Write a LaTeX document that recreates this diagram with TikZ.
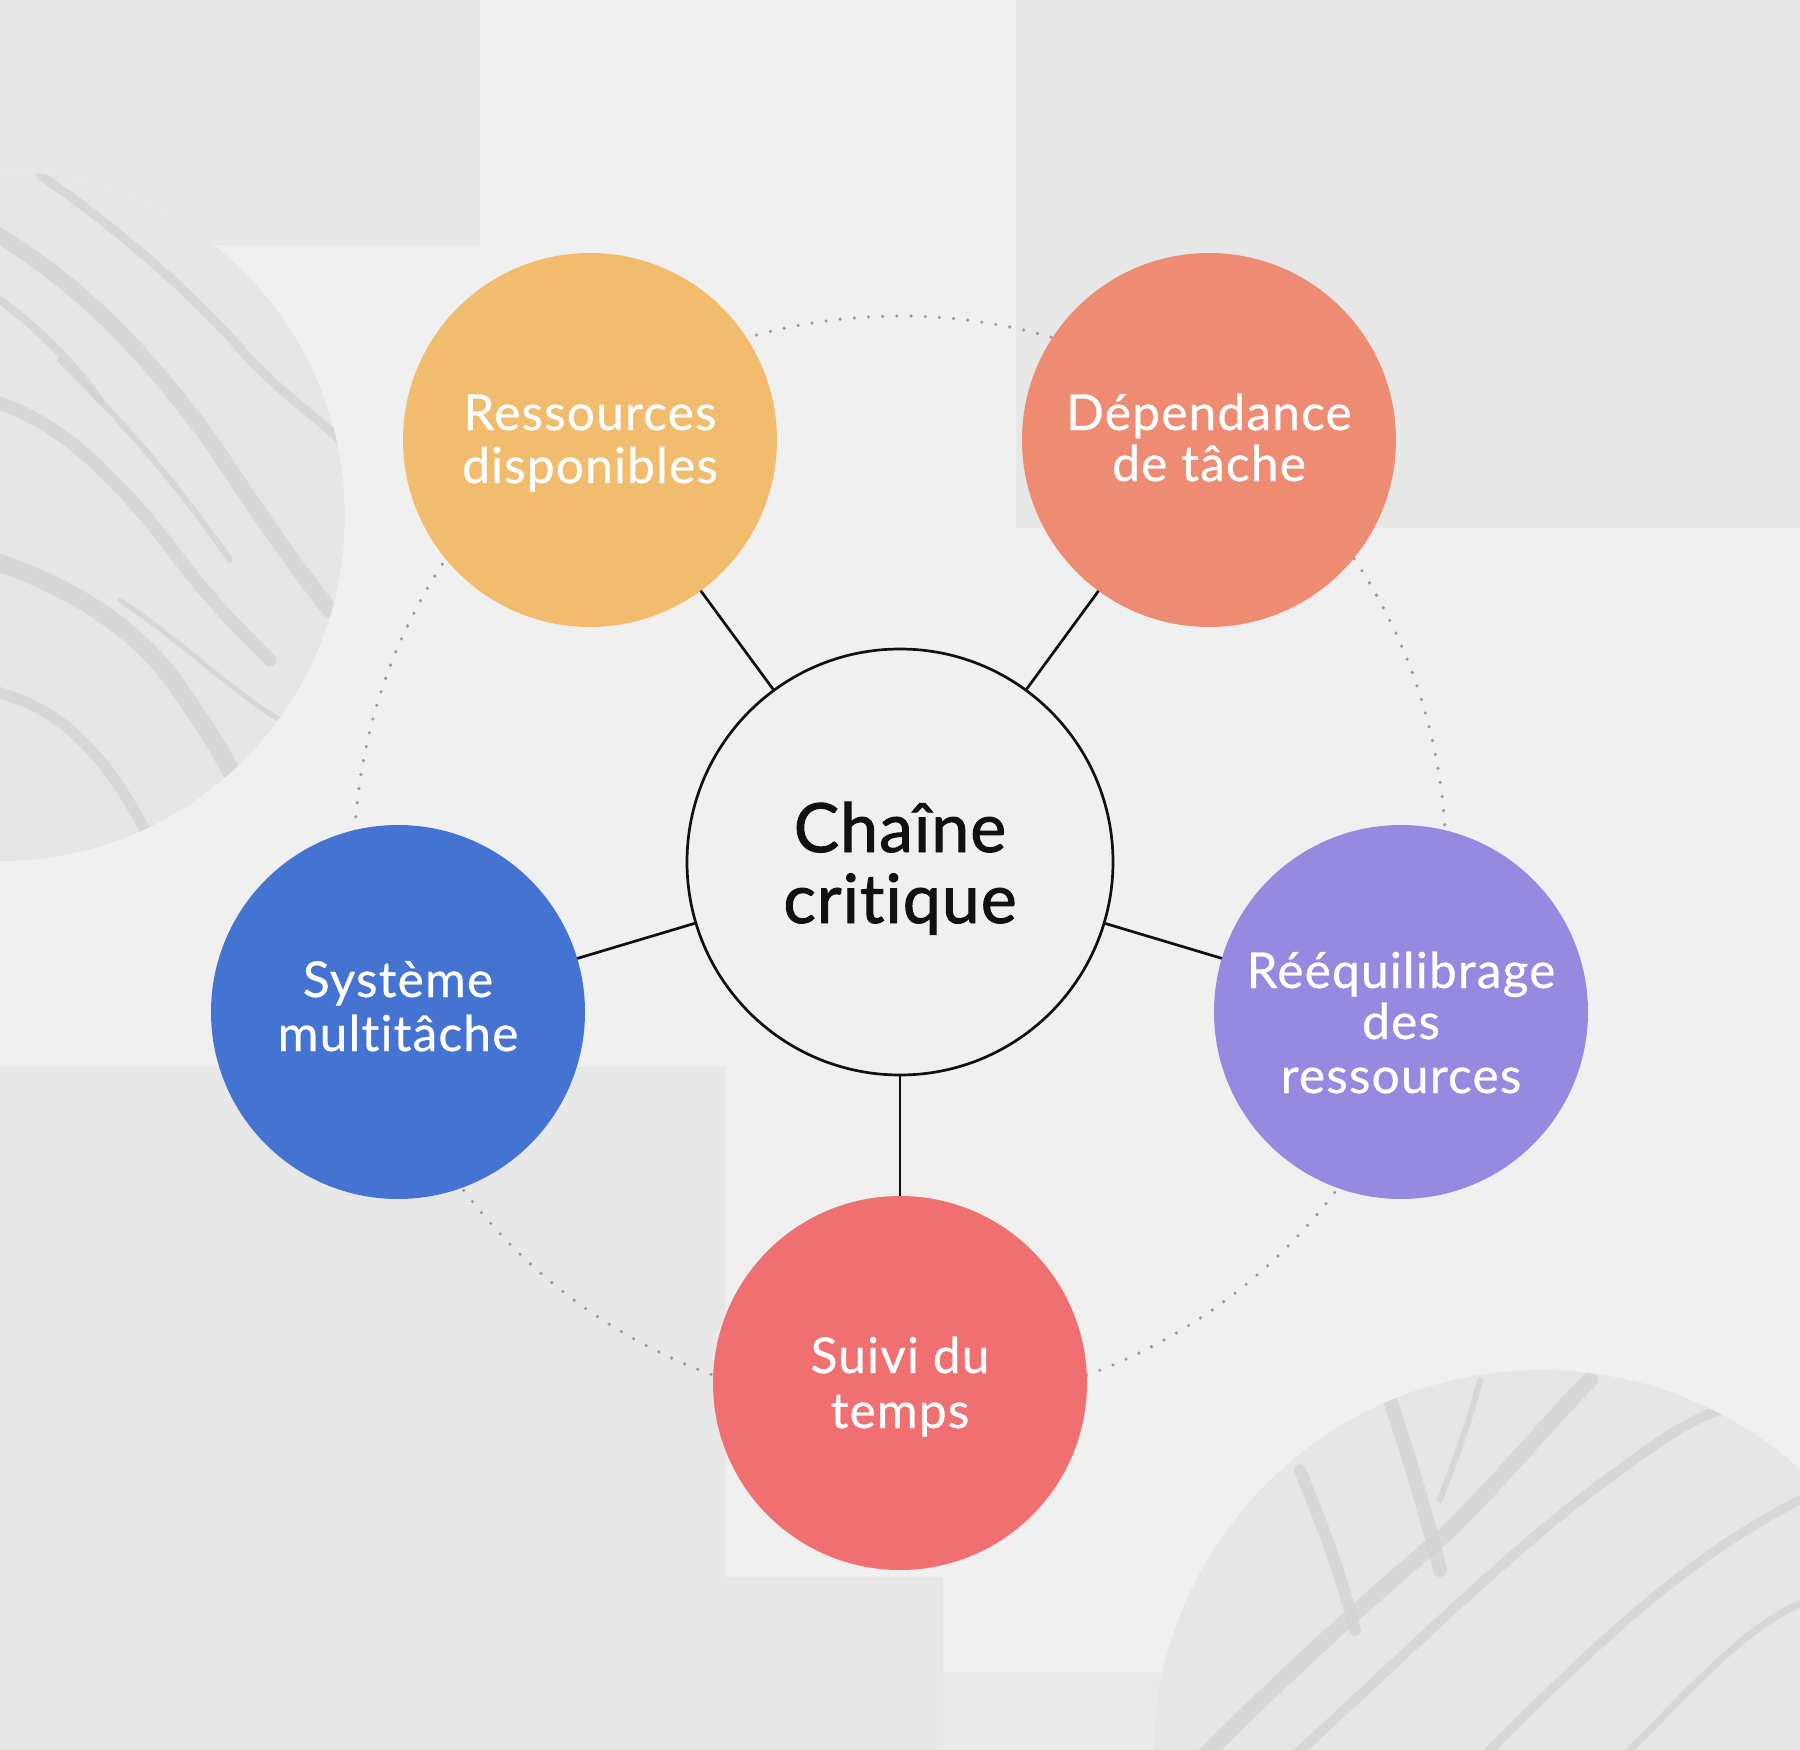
\documentclass[tikz,border=0pt]{standalone}
\usepackage{fontspec}
\setmainfont[Ligatures={NoCommon}, FakeBold=0.6, LetterSpace=2.5]{Lato}
\newfontfamily\ctrfont[Ligatures={NoCommon}, FakeBold=1.4, LetterSpace=1.5]{Lato}
\definecolor{bg}{HTML}{F1F0F0}
\definecolor{patchA}{HTML}{E9E8E8}
\definecolor{patchB}{HTML}{E8E7E7}
\definecolor{marble}{HTML}{E7E6E6}
\definecolor{vein}{HTML}{D3D2D2}
\definecolor{dotgray}{HTML}{9C9B9B}
\definecolor{cyellow}{HTML}{F1BC6D}
\definecolor{corange}{HTML}{EE8C73}
\definecolor{cblue}{HTML}{4573D2}
\definecolor{cpurple}{HTML}{958AE0}
\definecolor{cred}{HTML}{F06F71}
\definecolor{ink}{HTML}{111111}
\begin{document}
\begin{tikzpicture}[x=1pt,y=-1pt,
  sat/.style={circle, minimum size=374pt, inner sep=0pt, outer sep=0pt},
  hub/.style={circle, minimum size=426pt, inner sep=0pt, draw=ink, line width=2.7pt, fill=bg},
  conn/.style={draw=ink, line width=2.7pt},
  lab/.style={font=\fontsize{49.5}{53}\selectfont, text=white, anchor=base, inner sep=0pt},
  hublab/.style={font=\fontsize{68}{71}\ctrfont, text=ink, anchor=base, inner sep=0pt},
  dotring/.style={draw=dotgray, line width=3.6pt, line cap=round, dash pattern=on 0pt off 14.2pt},
  veinline/.style={draw=vein, line cap=round, line join=round, draw opacity=0.75}
]
\useasboundingbox (0,0) rectangle (1800,1750);
% background
\fill[bg] (0,0) rectangle (1800,1750);
\fill[patchA] (0,0) rectangle (480,245);
\fill[patchB] (1016,0) rectangle (1800,528);
\fill[patchA] (0,1067) rectangle (726,1750);
\fill[patchA] (726,1577) rectangle (943,1750);
\fill[patchA!70!bg] (943,1672) rectangle (1800,1750);
% left marble
\begin{scope}
  \clip (0,516) circle[radius=345];
  \fill[marble] (0,516) circle[radius=345];
  \draw[veinline, line width=16pt] (-10,230) .. controls (90,290) and (150,360) .. (210,440) .. controls (250,500) and (290,560) .. (330,610);
  \draw[veinline, line width=9pt] (40,175) .. controls (120,230) and (200,300) .. (250,360) .. controls (290,400) and (320,420) .. (340,440);
  \draw[veinline, line width=13pt] (-10,400) .. controls (60,420) and (120,480) .. (180,560) .. controls (210,600) and (240,630) .. (270,660);
  \draw[veinline, line width=6pt] (60,360) .. controls (110,410) and (160,460) .. (230,560);
  \draw[veinline, line width=18pt] (-10,560) .. controls (70,585) and (140,630) .. (180,690) .. controls (200,720) and (215,740) .. (230,770);
  \draw[veinline, line width=11pt] (-10,690) .. controls (50,705) and (100,740) .. (150,840);
  \draw[veinline, line width=5pt] (120,600) .. controls (180,640) and (230,690) .. (280,720);
  \draw[veinline, line width=8pt] (0,300) .. controls (40,330) and (70,360) .. (100,400);
\end{scope}
% bottom-right marble
\begin{scope}
  \clip (1541,1758) circle[radius=388];
  \fill[marble] (1541,1758) circle[radius=388];
  \draw[veinline, line width=16pt] (1200,1760) .. controls (1300,1660) and (1380,1590) .. (1450,1530) .. controls (1510,1470) and (1550,1420) .. (1590,1380);
  \draw[veinline, line width=10pt] (1290,1760) .. controls (1400,1660) and (1520,1540) .. (1620,1470) .. controls (1660,1440) and (1690,1420) .. (1720,1410);
  \draw[veinline, line width=14pt] (1390,1400) .. controls (1410,1460) and (1425,1510) .. (1440,1570);
  \draw[veinline, line width=9pt] (1480,1760) .. controls (1580,1660) and (1680,1560) .. (1800,1500);
  \draw[veinline, line width=12pt] (1300,1470) .. controls (1320,1520) and (1340,1570) .. (1355,1630);
  \draw[veinline, line width=7pt] (1620,1760) .. controls (1690,1690) and (1750,1620) .. (1810,1600);
  \draw[veinline, line width=6pt] (1480,1380) .. controls (1470,1420) and (1455,1460) .. (1440,1500);
\end{scope}
% hub and dotted ring
\coordinate (c0) at (900,862);
\draw[dotring] (c0) circle[radius=546];
\node[hub] (ctr) at (c0) {};
% satellites
\node[sat, fill=cyellow] (res) at (590,440) {};
\node[sat, fill=corange] (dep) at (1209,440) {};
\node[sat, fill=cblue]   (sys) at (398,1012) {};
\node[sat, fill=cpurple] (req) at (1401,1012) {};
\node[sat, fill=cred]    (sui) at (900,1383) {};
% connectors
\draw[conn] (ctr) -- (res);
\draw[conn] (ctr) -- (dep);
\draw[conn] (ctr) -- (sys);
\draw[conn] (ctr) -- (req);
\draw[conn] (ctr) -- (sui);
% labels
\node[hublab] (ctrA) at (900,852) {Chaîne};
\node[hublab] (ctrB) at (900,923) {critique};
\node[lab] (resA) at (590,430) {Ressources};
\node[lab] (resB) at (590,483) {disponibles};
\node[lab] (depA) at (1209,430) {Dépendance};
\node[lab] (depB) at (1209,481) {de tâche};
\node[lab] (sysA) at (398,997) {Système};
\node[lab] (sysB) at (398,1051) {multitâche};
\node[lab] (reqA) at (1401,988) {Rééquilibrage};
\node[lab] (reqB) at (1401,1039) {des};
\node[lab] (reqC) at (1401,1093) {ressources};
\node[lab] (suiA) at (900,1373) {Suivi du};
\node[lab] (suiB) at (900,1428) {temps};
\end{tikzpicture}
\end{document}
